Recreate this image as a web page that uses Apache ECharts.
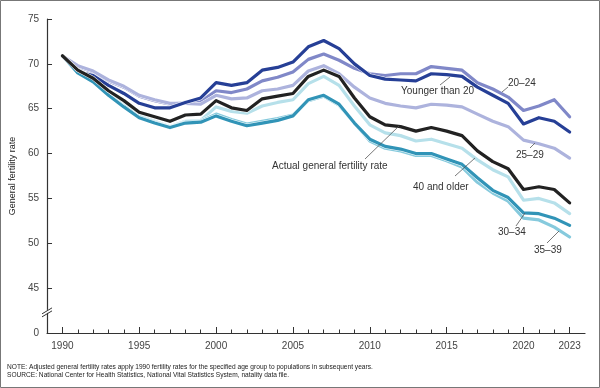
<!DOCTYPE html>
<html>
<head>
<meta charset="utf-8">
<script src="https://cdn.jsdelivr.net/npm/echarts@6/dist/echarts.min.js"></script>
<style>
  html, body { margin: 0; padding: 0; background: #fff; }
  #chart { width: 600px; height: 388px; }
</style>
</head>
<body>
<div id="chart"></div>
<script>
// ---- Data ----
const years = ['1990','1991','1992','1993','1994','1995','1996','1997','1998','1999',
               '2000','2001','2002','2003','2004','2005','2006','2007','2008','2009',
               '2010','2011','2012','2013','2014','2015','2016','2017','2018','2019',
               '2020','2021','2022','2023'];
const axisYears = ['1989'].concat(years, ['2024']);
const labelYears = ['1990','1995','2000','2005','2010','2015','2020','2023'];
const yTicks = [40, 45, 50, 55, 60, 65, 70, 75];

const youngerThan20 = [70.9,69.1,68.7,67.6,66.7,65.6,65.1,65.1,65.7,66.2,67.9,67.6,67.9,69.3,69.6,70.2,71.9,72.6,71.7,70.0,68.7,68.3,68.2,68.1,68.9,68.8,68.6,67.4,66.5,65.6,63.3,64.0,63.6,62.4];
const age20to24    = [70.9,69.7,69.1,68.1,67.4,66.4,65.9,65.5,65.7,65.8,67.0,66.8,67.2,68.1,68.5,69.1,70.5,71.1,70.4,69.5,68.9,68.7,68.9,68.9,69.7,69.5,69.3,67.9,67.2,66.3,64.8,65.3,66.0,64.1];
const age25to29    = [70.9,69.8,69.2,68.2,67.5,66.5,66.0,65.6,65.6,65.5,66.5,66.1,66.2,67.0,67.2,67.6,69.2,69.8,68.9,67.4,66.2,65.6,65.3,65.1,65.5,65.4,65.2,64.4,63.6,63.0,61.5,61.1,60.6,59.5];
const actualGFR    = [70.9,69.3,68.4,67.0,65.9,64.6,64.1,63.6,64.3,64.4,65.9,65.1,64.8,66.1,66.4,66.7,68.6,69.3,68.6,66.2,64.1,63.2,63.0,62.5,62.9,62.5,62.0,60.3,59.1,58.3,56.0,56.3,56.0,54.5];
const age40plus    = [70.9,69.1,68.1,66.7,65.4,64.2,63.6,63.0,63.6,63.7,65.2,64.7,64.5,65.3,65.7,66.0,67.8,68.6,67.6,65.3,63.2,62.3,62.0,61.4,61.6,61.1,60.6,59.3,58.2,57.4,54.8,55.0,54.5,53.3];
const age30to34    = [70.9,69.0,68.0,66.5,65.2,64.0,63.4,62.9,63.4,63.5,64.2,63.6,63.1,63.4,63.7,64.2,66.0,66.5,65.5,63.4,61.6,60.8,60.5,60.0,60.0,59.4,58.8,57.3,55.9,55.1,53.4,53.3,52.8,52.0];
const age35to39    = [70.9,69.1,68.1,66.6,65.3,64.1,63.5,62.9,63.5,63.6,64.4,63.8,63.3,63.6,63.9,64.3,65.9,66.4,65.4,63.4,61.4,60.6,60.3,59.8,59.8,59.2,58.5,56.8,55.6,54.7,52.8,52.6,51.8,50.7];

const seriesDefs = [
  { name: '20–24', data: age20to24, color: '#8088c8' },
  { name: '25–29', data: age25to29, color: '#adb3dd' },
  { name: 'Younger than 20', data: youngerThan20, color: '#263f96' },
  { name: '40 and older', data: age40plus, color: '#b6e0ea' },
  { name: '35–39', data: age35to39, color: '#86cadd' },
  { name: '30–34', data: age30to34, color: '#3194b7' },
  { name: 'Actual general fertility rate', data: actualGFR, color: '#222222' }
];

const FONT = '"Liberation Sans", Arial, Helvetica, sans-serif';

const chart = echarts.init(document.getElementById('chart'), null, { renderer: 'canvas' });

const series = [];
seriesDefs.forEach(s => {
  const pts = years.map((y, i) => [y, s.data[i]]);
  series.push({
    name: s.name + ' halo',
    type: 'line', xAxisIndex: 0, yAxisIndex: 0,
    symbol: 'none', silent: true,
    data: pts,
    lineStyle: { color: '#ffffff', width: 4.2, cap: 'round', join: 'round' },
    emphasis: { disabled: true }, animation: false
  });
  series.push({
    name: s.name,
    type: 'line', xAxisIndex: 0, yAxisIndex: 0,
    symbol: 'none', silent: true,
    data: pts,
    lineStyle: { color: s.color, width: 3.2, cap: 'round', join: 'round' },
    itemStyle: { color: s.color },
    emphasis: { disabled: true }, animation: false
  });
});

const annotations = [
  { text: 'Younger than 20', x: 401, y: 91, lx1: 440, ly1: 85, lx2: 450, ly2: 77 },
  { text: '20–24', x: 508, y: 83, lx1: 502, ly1: 92, lx2: 508, ly2: 87 },
  { text: '25–29', x: 516, y: 155, lx1: 530, ly1: 148, lx2: 535, ly2: 143 },
  { text: 'Actual general fertility rate', x: 272, y: 166, lx1: 365, ly1: 159, lx2: 399, ly2: 126 },
  { text: '40 and older', x: 413, y: 187, lx1: 455, ly1: 176, lx2: 475, ly2: 158 },
  { text: '30–34', x: 498, y: 232, lx1: 516, ly1: 226, lx2: 525, ly2: 213 },
  { text: '35–39', x: 534, y: 250, lx1: 547, ly1: 243, lx2: 559, ly2: 231 }
];

const annGraphics = [];
annotations.forEach(a => {
  annGraphics.push({
    type: 'line', silent: true, z: 50,
    shape: { x1: a.lx1, y1: a.ly1, x2: a.lx2, y2: a.ly2 },
    style: { stroke: '#555', lineWidth: 0.8 }
  });
  annGraphics.push({
    type: 'text', silent: true, z: 50,
    x: a.x, y: a.y,
    style: { text: a.text, fill: '#333', font: '10px ' + FONT, textVerticalAlign: 'middle', textAlign: 'left' }
  });
});

const option = {
  backgroundColor: '#ffffff',
  animation: false,
  grid: { left: 44, right: 15, top: 19, bottom: 55, containLabel: false },
  xAxis: [
    {
      type: 'category',
      data: axisYears,
      boundaryGap: false,
      position: 'bottom',
      axisLine: { show: true, lineStyle: { color: '#333', width: 1.2 } },
      axisTick: { show: true, inside: true, length: 3.5, lineStyle: { color: '#333', width: 1 },
                  interval: (i) => i > 0 && i < axisYears.length - 1 },
      axisLabel: { show: false },
      splitLine: { show: false }
    },
    {
      type: 'category',
      data: axisYears,
      boundaryGap: false,
      position: 'bottom',
      axisLine: { show: false },
      axisTick: { show: true, inside: true, length: 6, lineStyle: { color: '#333', width: 1 },
                  interval: (i, v) => labelYears.indexOf(v) >= 0 },
      axisLabel: { show: true, margin: 8, color: '#444', fontSize: 10, fontFamily: FONT,
                   interval: (i, v) => labelYears.indexOf(v) >= 0 },
      splitLine: { show: false }
    }
  ],
  yAxis: [{
    type: 'value',
    min: 40, max: 75, interval: 5,
    name: 'General fertility rate',
    nameLocation: 'middle',
    nameGap: 30,
    nameTextStyle: { color: '#222', fontSize: 9, fontFamily: FONT },
    axisLine: { show: true, lineStyle: { color: '#333', width: 1.2 } },
    axisTick: { show: true, inside: true, length: 5, lineStyle: { color: '#333', width: 1 } },
    axisLabel: { color: '#444', fontSize: 10, fontFamily: FONT, margin: 8,
                 formatter: v => (v === yTicks[0] ? '0' : String(v)) },
    splitLine: { show: false }
  }],
  series: series,
  graphic: [
    { type: 'rect', silent: true, z: 100,
      shape: { x: 0.5, y: 0.5, width: 599, height: 387 },
      style: { fill: 'none', stroke: '#777', lineWidth: 1 } },
    { type: 'text', silent: true, x: 7, y: 367,
      style: { text: 'NOTE: Adjusted general fertility rates apply 1990 fertility rates for the specified age group to populations in subsequent years.',
               fill: '#222', font: '6.6px ' + FONT, textVerticalAlign: 'middle' } },
    { type: 'text', silent: true, x: 7, y: 375.5,
      style: { text: 'SOURCE: National Center for Health Statistics, National Vital Statistics System, natality data file.',
               fill: '#222', font: '6.6px ' + FONT, textVerticalAlign: 'middle' } }
  ].concat(annGraphics)
};

chart.setOption(option);

// Axis break mark on the y axis between 45 and 0
const bp = chart.convertToPixel({ gridIndex: 0 }, [axisYears[0], 42.3]);
const bx = bp[0], by = bp[1];
chart.setOption({
  graphic: option.graphic.concat([
    { type: 'polygon', silent: true, z: 60,
      shape: { points: [[bx - 3, by + 3], [bx + 3, by - 1], [bx + 3, by - 4], [bx - 3, by]] },
      style: { fill: '#fff', stroke: null } },
    { type: 'line', silent: true, z: 61,
      shape: { x1: bx - 5, y1: by + 4.5, x2: bx + 5, y2: by - 1.5 },
      style: { stroke: '#333', lineWidth: 1 } },
    { type: 'line', silent: true, z: 61,
      shape: { x1: bx - 5, y1: by + 1.5, x2: bx + 5, y2: by - 4.5 },
      style: { stroke: '#333', lineWidth: 1 } }
  ])
}, { replaceMerge: ['graphic'] });
</script>
</body>
</html>
